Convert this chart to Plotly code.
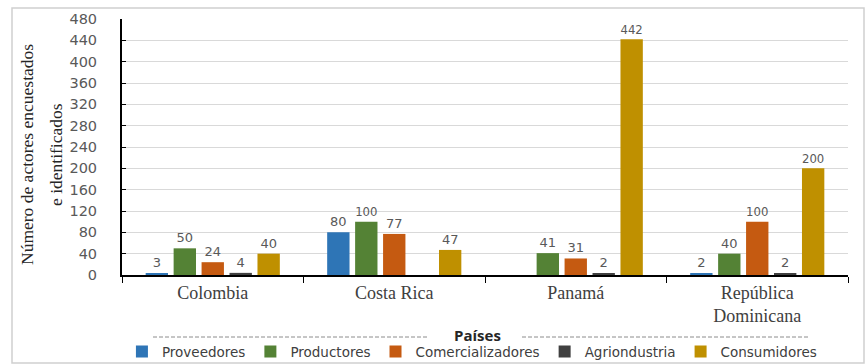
import plotly.graph_objects as go

# Countries on the x axis
paises = ["Colombia", "Costa Rica", "Panamá", "República<br>Dominicana"]

# Surveyed/identified actors per chain link (None = no bar)
proveedores = [3, 80, None, 2]
productores = [50, 100, 41, 40]
comercializadores = [24, 77, 31, 100]
agroindustria = [4, None, 2, 2]
consumidores = [40, 47, 442, 200]

y_ticks = list(range(0, 481, 40))
y_title_lines = ["Número de actores encuestados", "e identificados"]

series = [
    ("Proveedores", proveedores, "#2E75B6"),
    ("Productores", productores, "#548235"),
    ("Comercializadores", comercializadores, "#C55A11"),
    ("Agriondustria", agroindustria, "#404040"),
    ("Consumidores", consumidores, "#BF9000"),
]

fig = go.Figure()
for name, vals, color in series:
    fig.add_trace(go.Bar(
        name=name,
        x=paises,
        y=vals,
        marker=dict(color=color, line=dict(width=0)),
        text=[("" if v is None else str(v)) for v in vals],
        textposition="outside",
        textfont=dict(family="DejaVu Sans", size=13, color="#595959"),
        cliponaxis=False,
    ))

fig.update_layout(
    width=865,
    height=364,
    margin=dict(l=122, r=17, t=19, b=89, autoexpand=False),
    paper_bgcolor="white",
    plot_bgcolor="white",
    barmode="group",
    bargap=0.23,
    bargroupgap=0.2,
    showlegend=True,
    legend=dict(
        orientation="h",
        x=0.482, xanchor="center",
        y=-0.30, yanchor="middle",
        bgcolor="rgba(0,0,0,0)",
        font=dict(family="DejaVu Sans", size=13.5, color="#404040"),
        itemwidth=30,
        traceorder="normal",
    ),
    xaxis=dict(
        type="category",
        tickson="boundaries",
        ticks="outside",
        ticklen=6,
        tickcolor="black",
        showline=True,
        linecolor="black",
        linewidth=2,
        showgrid=False,
        tickfont=dict(family="Liberation Serif", size=18, color="#404040"),
    ),
    yaxis=dict(
        range=[0, 480],
        tickvals=y_ticks,
        showline=True,
        linecolor="black",
        linewidth=2,
        ticks="inside",
        ticklen=4,
        tickcolor="black",
        showgrid=True,
        gridcolor="#D9D9D9",
        gridwidth=1,
        zeroline=False,
        ticklabelstandoff=20,
        tickfont=dict(family="DejaVu Sans", size=14.5, color="#595959"),
    ),
)

# Y axis title, two rotated lines with wide line spacing
for line, xpx in zip(y_title_lines, [27, 56]):
    fig.add_annotation(text=line, xref="paper", yref="paper",
                       x=(xpx - 122) / 726, y=(275 - 155) / 256,
                       showarrow=False, textangle=-90,
                       xanchor="center", yanchor="middle",
                       font=dict(family="Liberation Serif", size=17.5, color="#262626"))

# Outer frame around the figure
fig.add_shape(type="rect", xref="paper", yref="paper",
              x0=-110 / 726, x1=742 / 726, y0=-88 / 256, y1=267 / 256,
              line=dict(color="#D0D0D0", width=1.5), layer="below")

# Axis title "Países" with dashed rules on each side
fig.add_annotation(text="<b>Países</b>", xref="paper", yref="paper",
                   x=(477 - 122) / 726, y=(275 - 335) / 256,
                   showarrow=False, xanchor="center", yanchor="middle",
                   font=dict(family="Open Sans", size=15, color="#262626"))
for x0, x1 in [(153, 427), (522, 808)]:
    fig.add_shape(type="line", xref="paper", yref="paper",
                  x0=(x0 - 122) / 726, x1=(x1 - 122) / 726,
                  y0=(275 - 337) / 256, y1=(275 - 337) / 256,
                  line=dict(color="#8C8C8C", width=1, dash="4px,2px"))

fig.write_html("out.html")
